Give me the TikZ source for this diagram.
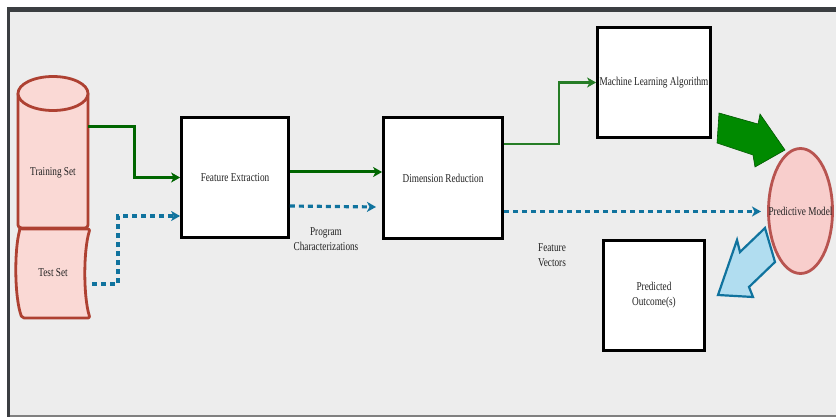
\documentclass[tikz,border=0pt]{standalone}
\usepackage{fontspec}
\setmainfont{Liberation Serif}[FakeStretch=0.77]
\usetikzlibrary{arrows.meta,shapes.geometric}
\definecolor{bg}{HTML}{EDEDED}
\definecolor{framec}{HTML}{3B3E41}
\definecolor{bline}{HTML}{808080}
\definecolor{redfill}{HTML}{FAD9D5}
\definecolor{redline}{HTML}{AE4132}
\definecolor{pmfill}{HTML}{F8CECC}
\definecolor{pmline}{HTML}{B85450}
\definecolor{dgreen}{HTML}{006600}
\definecolor{bgreen}{HTML}{008A00}
\definecolor{bgreenl}{HTML}{005700}
\definecolor{blueline}{HTML}{10739E}
\definecolor{bluefill}{HTML}{B1DDF0}
\definecolor{txt}{HTML}{222222}
\tikzset{
  box/.style={draw=black, line width=2.8pt, fill=white, text=txt, font=\fontsize{12}{15}\selectfont, align=center, inner sep=0pt},
  lbl/.style={text=txt, font=\fontsize{12}{15}\selectfont, align=center, inner sep=0pt},
  store/.style={draw=redline, fill=redfill, line width=2.8pt, line join=round},
  gline/.style={draw=dgreen, line width=3pt, -{Stealth[length=9pt,width=10pt,inset=2.5pt]}},
  gthin/.style={draw=dgreen!85!white, line width=2.1pt, -{Stealth[length=9pt,width=10pt,inset=2.5pt]}},
  bdash/.style={draw=blueline, line width=3.2pt, dash pattern=on 5pt off 4pt, -{Stealth[length=9pt,width=10pt,inset=2.5pt]}}
}
\begin{document}
\begin{tikzpicture}[x=1pt,y=-1pt]
\useasboundingbox (0,0) rectangle (836,417);
\fill[white] (0,0) rectangle (836,417);
\fill[bg] (10,12) rectangle (836,414.5);
\fill[framec] (6.5,7) rectangle (836,12.3);
\fill[framec] (6.5,7) rectangle (10,417);
\fill[bline] (10,414.5) rectangle (836,417);

% Training set cylinder
\path[store, draw=none] (18,93.5) -- (18,228) -- (88,228) -- (88,93.5) -- cycle;
\draw[store, fill=none, rounded corners=3pt] (18,93.5) -- (18,228) -- (88,228) -- (88,93.5);
\draw[store] (53,93.5) ellipse [x radius=35pt, y radius=17pt];
\node[lbl] (train) at (53,173) {Training Set};
\coordinate (trainR) at (88,127);

% Test set tape
\draw[store, rounded corners=2pt] (20,229) -- (90,229) .. controls (83.3,250) and (83.3,297) .. (90,318) -- (22,318) .. controls (14.3,297) and (14.3,250) .. cycle;
\node[lbl] (test) at (53,273) {Test Set};
\coordinate (testR) at (92,284);

% Boxes
\node[box, minimum width=107pt, minimum height=120pt] (fe) at (235,177.5) {Feature Extraction};
\node[box, minimum width=119pt, minimum height=121pt] (dr) at (443,178) {Dimension Reduction};
\node[box, minimum width=113pt, minimum height=110pt] (mla) at (654,82.5) {Machine Learning Algorithm};
\node[box, minimum width=101pt, minimum height=110pt] (po) at (654,295.5) {Predicted\\Outcome(s)};

% Predictive model
\node[ellipse, draw=pmline, fill=pmfill, line width=2.8pt, minimum width=64pt, minimum height=125pt, inner sep=0pt,
      label={[lbl]center:Predictive Model}] (pm) at (800.5,211) {};

% Connectors
\draw[gline] (trainR) -- ++(46,0) |- (fe.west);
\draw[bdash] (testR) -- ++(26,0) |- ([yshift=-38.5pt]fe.west);
\draw[gline] ([yshift=5.5pt]fe.east) -- ([yshift=5.5pt]fe.east -| dr.west);
\coordinate (pcEnd) at (376,207);
\draw[bdash] ([yshift=-28.5pt]fe.east) -- (pcEnd);
\draw[gthin] ([yshift=34pt]dr.east) -- ++(55,0) |- (mla.west);
\coordinate (fvEnd) at (761,211.5);
\draw[bdash] (dr.east |- fvEnd) -- (fvEnd);

% Labels
\node[lbl] (pc) at (326,239.5) {Program\hspace{18pt}\\Characterizations};
\node[lbl] (fv) at (552,255.5) {Feature\\Vectors};

% Block arrows
\draw[fill=bgreen, draw=bgreenl, line width=0.6pt, line join=miter]
  (719,113) -- (758,124) -- (760,114) -- (785,150) -- (755,167) -- (753,155) -- (717,143) -- cycle;
\draw[fill=bluefill, draw=blueline, line width=2.2pt, line join=miter]
  (765,228) -- (740,252) -- (737,240) -- (718,295) -- (753,297) -- (749,287) -- (775,262) -- cycle;
\end{tikzpicture}
\end{document}
